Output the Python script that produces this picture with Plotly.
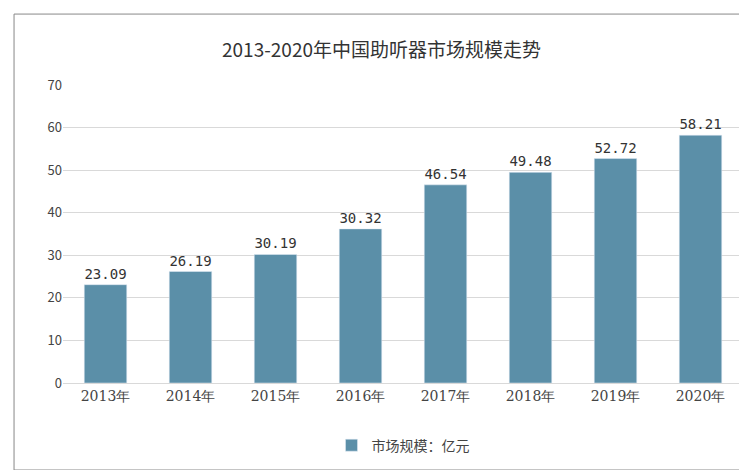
import plotly.graph_objects as go

categories = ["2013年","2014年","2015年","2016年","2017年","2018年","2019年","2020年"]
values = [23.09, 26.19, 30.19, 36.2, 46.54, 49.48, 52.72, 58.21]
labels = ["23.09","26.19","30.19","30.32","46.54","49.48","52.72","58.21"]

fig = go.Figure(go.Bar(
    x=categories, y=values, text=labels, textposition="outside",
    textfont=dict(family="DejaVu Sans Mono, monospace", size=14, color="#333"),
    marker_color="#5b8fa8", width=0.5, name="市场规模：亿元", cliponaxis=False))
fig.update_layout(
    width=747, height=470, paper_bgcolor="white", plot_bgcolor="white",
    margin=dict(l=55, r=12, t=77, b=95, autoexpand=False),
    title=dict(text="2013-2020年中国助听器市场规模走势", x=0.5, y=0.925, xanchor="center",
               font=dict(family="Noto Sans CJK SC", size=19, color="#333")),
    font=dict(family="Noto Sans CJK SC", color="#444"),
    showlegend=True,
    legend=dict(orientation="h", x=0.5, xanchor="center", y=-0.21, yanchor="middle",
                font=dict(size=14)),
    yaxis=dict(range=[0,70], dtick=10, gridcolor="#d9d9d9", tickfont=dict(size=13),
               zeroline=False, showline=False),
    xaxis=dict(showline=True, linecolor="#d9d9d9", tickfont=dict(size=14, family="DejaVu Serif")),
    shapes=[dict(type="rect", xref="paper", yref="paper", x0=-0.072, x1=1.007, y0=-0.292, y1=1.238,
                 line=dict(color="#888", width=1))])
fig.write_html("out.html")
